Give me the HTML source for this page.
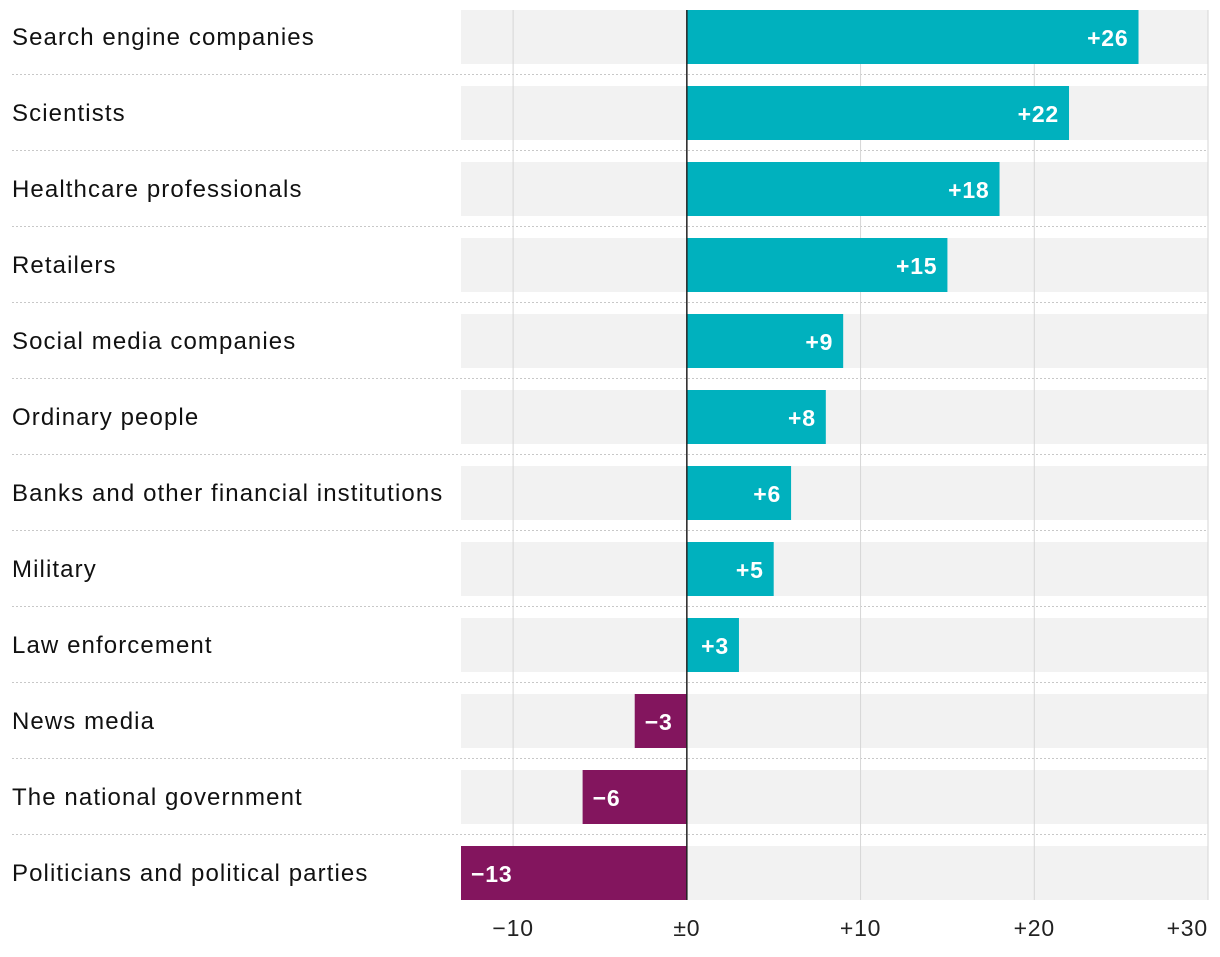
<!DOCTYPE html>
<html><head><meta charset="utf-8"><style>
body{margin:0;background:#fff;width:1220px;height:952px;overflow:hidden;font-family:"Liberation Sans",sans-serif}
</style></head><body>
<svg id="chart" width="1220" height="952" xmlns="http://www.w3.org/2000/svg"></svg>
<script>
const categories=["Search engine companies","Scientists","Healthcare professionals","Retailers","Social media companies","Ordinary people","Banks and other financial institutions","Military","Law enforcement","News media","The national government","Politicians and political parties"];
const values=[26,22,18,15,9,8,6,5,3,-3,-6,-13];
const ticks=[-10,0,10,20,30];
const tickLabels=["\u221210","\u00b10","+10","+20","+30"];
const xMin=-13,xMax=30;
const svg=document.getElementById('chart');
const NS='http://www.w3.org/2000/svg';
const x=v=>461+(v-xMin)*(1208-461)/(xMax-xMin);
const rowTop=i=>10+i*76;
function mk(t,a,p){const e=document.createElementNS(NS,t);for(const k in a)e.setAttribute(k,a[k]);(p||svg).appendChild(e);return e;}
categories.forEach((c,i)=>{
  const bg=mk('rect',{x:x(xMin),y:rowTop(i),width:x(xMax)-x(xMin),height:54,fill:'#f2f2f2'});
  
  
  if(i<categories.length-1){
    const s=mk('line',{x1:12,x2:1208,y1:rowTop(i)+64.5,y2:rowTop(i)+64.5,stroke:'#c8c8c8','stroke-dasharray':'2,2'});
    
    
  }
});
ticks.forEach((t,j)=>{
  if(t!==0){
    const g=mk('line',{x1:x(t),x2:x(t),y1:10,y2:900,stroke:'#d6d6d6','stroke-width':1});
    
    
  }
  const last=j===ticks.length-1;
  const tl=mk('text',{x:last?x(t):x(t),y:936,'text-anchor':last?'end':'middle','font-size':23,'letter-spacing':0.8,fill:'#222'});
  tl.textContent=tickLabels[j];
  
  
});
categories.forEach((c,i)=>{
  const v=values[i],y=rowTop(i);
  const x0=x(Math.min(0,v)),x1=x(Math.max(0,v));
  const b=mk('rect',{x:x0,y:y,width:x1-x0,height:54,fill:v>=0?'#00b1be':'#83155e'});
  
  
  const vl=mk('text',{x:v>=0?x1-10:x0+10,y:y+36,'text-anchor':v>=0?'end':'start','font-size':23,'font-weight':'bold','letter-spacing':0.8,fill:'#fff'});
  vl.textContent=(v>0?'+':'\u2212')+Math.abs(v);
  
  
  const l=mk('text',{x:12,y:y+35,'font-size':24,'letter-spacing':1.1,fill:'#111'});
  l.textContent=c;
  
  
});
const z=mk('line',{x1:x(0),x2:x(0),y1:10,y2:900,stroke:'#222','stroke-width':1.5});


</script>
</body></html>
